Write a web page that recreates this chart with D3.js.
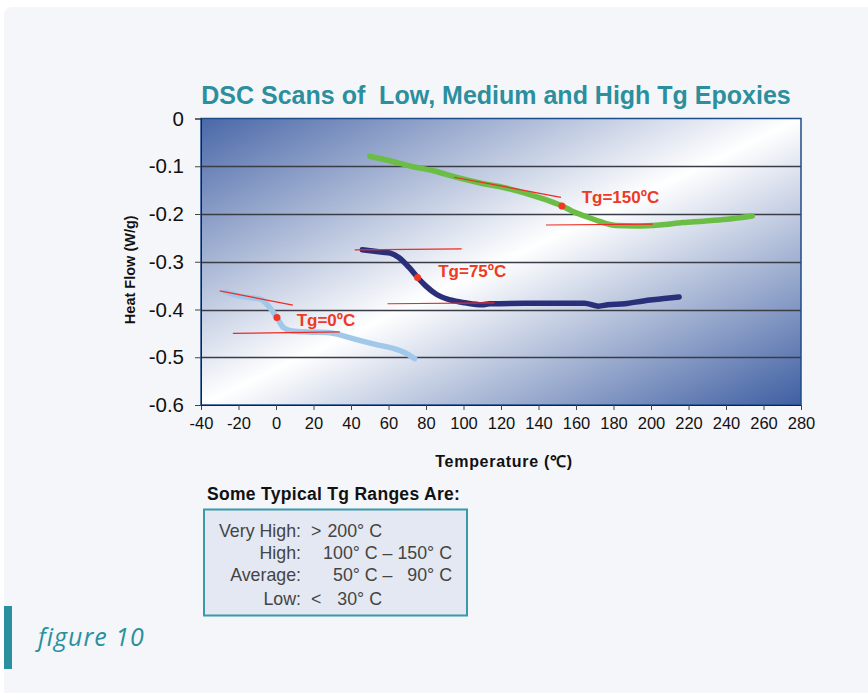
<!DOCTYPE html>
<html>
<head>
<meta charset="utf-8">
<script src="https://cdn.jsdelivr.net/npm/d3@7"></script>
<style>
  body { margin: 0; background: #ffffff; }
  svg { display: block; font-family: "Liberation Sans", Arial, sans-serif; }
</style>
</head>
<body>
<svg id="chart" width="868" height="693"></svg>
<script>
// --- data (temperature in °C, heat flow in W/g) ---
var lowTg = [
  [-27, -0.363], [-19, -0.372], [-8, -0.379], [-4, -0.393], [0.5, -0.417],
  [4, -0.438], [8.5, -0.445], [17, -0.447], [27.5, -0.448], [34, -0.453],
  [42, -0.462], [53, -0.473], [63, -0.482], [68.5, -0.490], [74, -0.503]
];
var mediumTg = [
  [46, -0.275], [57, -0.280], [61, -0.282], [65.5, -0.291], [71, -0.312],
  [75.5, -0.333], [80, -0.351], [85.5, -0.368], [93, -0.380], [101, -0.386],
  [110, -0.390], [114, -0.388], [133, -0.387], [164.5, -0.387], [172, -0.393],
  [177, -0.390], [186, -0.388], [196, -0.382], [207, -0.377], [215, -0.374]
];
var highTg = [
  [50, -0.079], [59, -0.087], [72, -0.100], [84.5, -0.110], [97, -0.124],
  [110, -0.136], [122, -0.145], [135, -0.159], [146, -0.173], [152.5, -0.183],
  [158, -0.194], [164.5, -0.204], [173, -0.216], [181.5, -0.224], [192, -0.225],
  [204.5, -0.223], [217, -0.218], [228, -0.215], [240.5, -0.211], [254, -0.204]
];
var seriesNames = ["Low Tg", "Medium Tg", "High Tg"];
var seriesColors = ["#9fc8ea", "#2a2f7a", "#6cbd45"];

// tangent lines used to find Tg, and the Tg points
var tangents = [
  [[-30, -0.361], [9, -0.391]], [[-23, -0.450], [34, -0.447]],
  [[42, -0.275], [99, -0.273]], [[59.5, -0.388], [116.5, -0.386]],
  [[95, -0.123], [152, -0.165]], [[144, -0.223], [201, -0.221]]
];
var tgPoints = [[0.5, -0.417], [75.5, -0.333], [152.5, -0.183]];
var tgLabels = ["Tg=0ºC", "Tg=75ºC", "Tg=150ºC"];
var tgLabelPos = [[11, -0.435], [86.5, -0.331], [163, -0.177]];

var xTicks = d3.range(-40, 281, 20);
var yTicks = [0, -0.1, -0.2, -0.3, -0.4, -0.5, -0.6];

var rangeLabels = ["Very High:", "High:", "Average:", "Low:"];
var rangeSigns = [">", "", "", "<"];
var rangeValues = ["200° C", "100° C – 150° C", "50° C –   90° C", "30° C"];

var svg = d3.select("#chart");

// page card
svg.append("rect")
  .attr("x", 4).attr("y", 7)
  .attr("width", 880).attr("height", 700)
  .attr("rx", 8)
  .attr("fill", "#f5f6fa");

var plot = { left: 201, right: 801, top: 118.5, bottom: 405 };

var x = d3.scaleLinear().domain([-40, 280]).range([plot.left, plot.right]);
var y = d3.scaleLinear().domain([-0.6, 0]).range([plot.bottom, plot.top]);

// plot background gradient
var defs = svg.append("defs");
var grad = defs.append("linearGradient")
  .attr("id", "plotGrad")
  .attr("x1", 0).attr("y1", 0).attr("x2", 1).attr("y2", 1);
grad.append("stop").attr("offset", "0%").attr("stop-color", "#4a68a8");
grad.append("stop").attr("offset", "50%").attr("stop-color", "#ffffff");
grad.append("stop").attr("offset", "100%").attr("stop-color", "#3f5fa2");

svg.append("rect")
  .attr("x", plot.left).attr("y", plot.top)
  .attr("width", plot.right - plot.left)
  .attr("height", plot.bottom - plot.top)
  .attr("fill", "url(#plotGrad)");

// gridlines
svg.append("g")
  .selectAll("line")
  .data(yTicks.filter(function(d) { return d !== 0 && d !== -0.6; }))
  .enter().append("line")
  .attr("x1", plot.left).attr("x2", plot.right)
  .attr("y1", function(d) { return Math.round(y(d)) + 0.5; })
  .attr("y2", function(d) { return Math.round(y(d)) + 0.5; })
  .attr("stroke", "#3a3d48")
  .attr("stroke-width", 1.3);

// plot border
svg.append("rect")
  .attr("x", plot.left).attr("y", plot.top)
  .attr("width", plot.right - plot.left)
  .attr("height", plot.bottom - plot.top)
  .attr("fill", "none")
  .attr("stroke", "#1f4c8a")
  .attr("stroke-width", 1.5);

function fmtMinus(s) { return s.replace("−", "-"); }

// axes
var xAxis = svg.append("g")
  .attr("transform", "translate(0," + plot.bottom + ")")
  .call(d3.axisBottom(x).tickValues(xTicks).tickSize(5).tickPadding(7)
    .tickFormat(function(d) { return fmtMinus(d3.format("d")(d)); }));
xAxis.select(".domain").attr("stroke", "#222");
xAxis.selectAll(".tick line").attr("stroke", "#444");
xAxis.selectAll("text")
  .attr("fill", "#111")
  .style("font-size", "16.5px");

var yAxis = svg.append("g")
  .attr("transform", "translate(" + plot.left + ",0)")
  .call(d3.axisLeft(y).tickValues(yTicks).tickSize(6).tickPadding(11)
    .tickFormat(function(d) { return d === 0 ? "0" : fmtMinus(d3.format(".1f")(d)); }));
yAxis.select(".domain").attr("stroke", "#222");
yAxis.selectAll(".tick line").attr("stroke", "#444");
yAxis.selectAll("text")
  .attr("fill", "#111")
  .style("font-size", "20.5px");

// axis titles
svg.append("text")
  .attr("x", 504).attr("y", 467)
  .attr("text-anchor", "middle")
  .style("font-size", "16px")
  .style("font-weight", "bold")
  .style("letter-spacing", "0.7px")
  .attr("fill", "#111")
  .text("Temperature (℃)");

svg.append("text")
  .attr("transform", "translate(135," + ((plot.top + plot.bottom) / 2 + 8) + ") rotate(-90)")
  .attr("text-anchor", "middle")
  .style("font-size", "14.5px")
  .style("font-weight", "bold")
  .attr("fill", "#111")
  .text("Heat Flow (W/g)");

// chart title
svg.append("text")
  .attr("x", 496).attr("y", 104)
  .attr("text-anchor", "middle")
  .attr("xml:space", "preserve")
  .style("white-space", "pre")
  .style("font-size", "25px")
  .style("font-weight", "bold")
  .attr("fill", "#2b8f9e")
  .text("DSC Scans of  Low, Medium and High Tg Epoxies");

// curves
var line = d3.line()
  .x(function(d) { return x(d[0]); })
  .y(function(d) { return y(d[1]); })
  .curve(d3.curveMonotoneX);

svg.append("g")
  .selectAll("path")
  .data([lowTg, mediumTg, highTg])
  .enter().append("path")
  .attr("d", line)
  .attr("fill", "none")
  .attr("stroke", function(d, i) { return seriesColors[i]; })
  .attr("stroke-width", 5.5)
  .attr("stroke-linecap", "round")
  .attr("stroke-linejoin", "round");

// tangent lines
svg.append("g")
  .selectAll("line")
  .data(tangents)
  .enter().append("line")
  .attr("x1", function(d) { return x(d[0][0]); })
  .attr("y1", function(d) { return y(d[0][1]); })
  .attr("x2", function(d) { return x(d[1][0]); })
  .attr("y2", function(d) { return y(d[1][1]); })
  .attr("stroke", "#ee2a24")
  .attr("stroke-width", 1.2);

// Tg dots
svg.append("g")
  .selectAll("circle")
  .data(tgPoints)
  .enter().append("circle")
  .attr("cx", function(d) { return x(d[0]); })
  .attr("cy", function(d) { return y(d[1]); })
  .attr("r", 3.5)
  .attr("fill", "#ee3a24");

svg.append("g")
  .selectAll("text")
  .data(tgLabels)
  .enter().append("text")
  .attr("x", function(d, i) { return x(tgLabelPos[i][0]); })
  .attr("y", function(d, i) { return y(tgLabelPos[i][1]); })
  .style("font-size", "17px")
  .style("font-weight", "bold")
  .attr("fill", "#ee3a24")
  .text(function(d) { return d; });

// Tg ranges box
svg.append("text")
  .attr("x", 207).attr("y", 500)
  .style("font-size", "17.5px")
  .style("font-weight", "bold")
  .style("letter-spacing", "0.3px")
  .attr("fill", "#111")
  .text("Some Typical Tg Ranges Are:");

svg.append("rect")
  .attr("x", 204).attr("y", 509.5)
  .attr("width", 263).attr("height", 106)
  .attr("fill", "#e3e8f2")
  .attr("stroke", "#3a9aa8")
  .attr("stroke-width", 2);

var rowY = [537, 559, 581, 605];
var rows = svg.append("g")
  .selectAll("g")
  .data(rangeLabels)
  .enter().append("g")
  .attr("transform", function(d, i) { return "translate(0," + rowY[i] + ")"; });

rows.append("text")
  .attr("x", 301)
  .attr("text-anchor", "end")
  .style("font-size", "17.8px")
  .attr("fill", "#444")
  .text(function(d) { return d; });

rows.append("text")
  .attr("x", 311)
  .style("font-size", "17.8px")
  .attr("fill", "#444")
  .text(function(d, i) { return rangeSigns[i]; });

rows.append("text")
  .attr("x", function(d, i) { return (i === 0 || i === 3) ? 382 : 452; })
  .attr("text-anchor", "end")
  .attr("xml:space", "preserve")
  .style("white-space", "pre")
  .style("font-size", "17.8px")
  .attr("fill", "#444")
  .text(function(d, i) { return rangeValues[i]; });

// figure caption
svg.append("rect")
  .attr("x", 4).attr("y", 606)
  .attr("width", 8).attr("height", 63)
  .attr("fill", "#2a909e");

svg.append("text")
  .attr("x", 38).attr("y", 646)
  .style("font-size", "25px")
  .style("font-style", "italic")
  .style("letter-spacing", "1px")
  .style("font-family", "'Open Sans', sans-serif")
  .attr("fill", "#2a909e")
  .text("figure 10");
</script>
</body>
</html>
